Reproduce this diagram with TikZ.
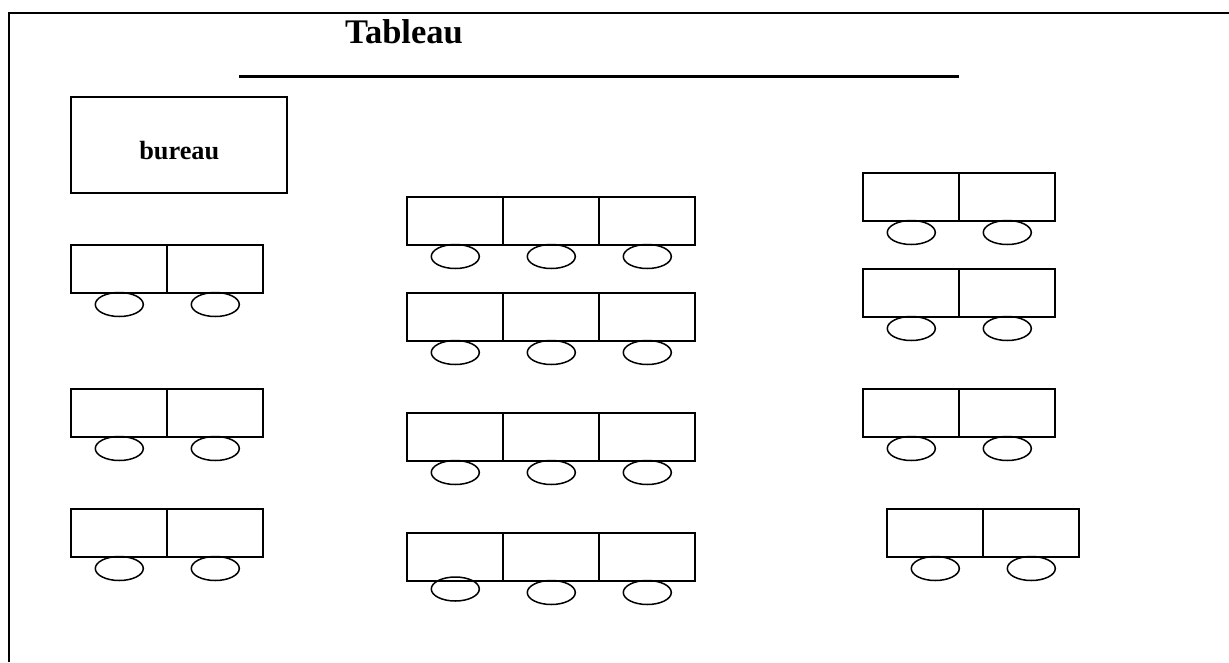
\documentclass[tikz,border=0pt]{standalone}
\usepackage{fontspec}
\setmainfont{Liberation Serif}
\usetikzlibrary{shapes.geometric}
\tikzset{
    desk/.style={draw, line width=2pt, minimum width=96pt, minimum height=48pt, inner sep=0pt},
    seat/.style={draw, ellipse, line width=1.5pt, minimum width=48pt, minimum height=24pt, inner sep=0pt},
}

\begin{document}
\begin{tikzpicture}[x=1pt,y=-1pt]
    \useasboundingbox (0,0) rectangle (1229,662);
    \coordinate(fa) at (9,662);
    \coordinate(fb) at (9,13);
    \coordinate(fc) at (1229,13);
    \draw[line width=2.4pt](fa)--(fb)--(fc);

    \node[anchor=base](title) at (404,43) {\fontsize{34.5pt}{36pt}\selectfont\bfseries Tableau};
    \coordinate(ra) at (239,76.5);
    \coordinate(rb) at (959,76.5);
    \draw[line width=2.6pt](ra)--(rb);

    \node[desk, minimum width=216pt, minimum height=96pt](bureau) at (179.3,145.2) {};
    \node[anchor=base](bureaulabel) at (179.3,159) {\fontsize{26.3pt}{28pt}\selectfont\bfseries bureau};

    % two places
    \foreach \k/\x/\y in {a/119.3/268.5, b/119.3/412.5, c/119.3/532.5, d/911.3/196.5, e/911.3/292.5, f/911.3/412.5, g/935.3/532.5}{
        \node[desk](\k1) at (\x,\y) {};
        \node[desk](\k2) at (\x+96,\y) {};
        \node[seat](s\k1) at (\x,\y+36) {};
        \node[seat](s\k2) at (\x+96,\y+36) {};
    }
    % three places
    \foreach \k/\y in {h/220.5, i/316.5, j/436.5, l/556.5}{
        \node[desk](\k1) at (455.3,\y) {};
        \node[desk](\k2) at (551.3,\y) {};
        \node[desk](\k3) at (647.3,\y) {};
        \node[seat](s\k2) at (551.3,\y+36) {};
        \node[seat](s\k3) at (647.3,\y+36) {};
    }
    \foreach \k/\y in {h/220.5, i/316.5, j/436.5}{\node[seat](s\k1) at (455.3,\y+36) {};}
    \node[seat](sl1) at (455.3,589) {};
\end{tikzpicture}
\end{document}
